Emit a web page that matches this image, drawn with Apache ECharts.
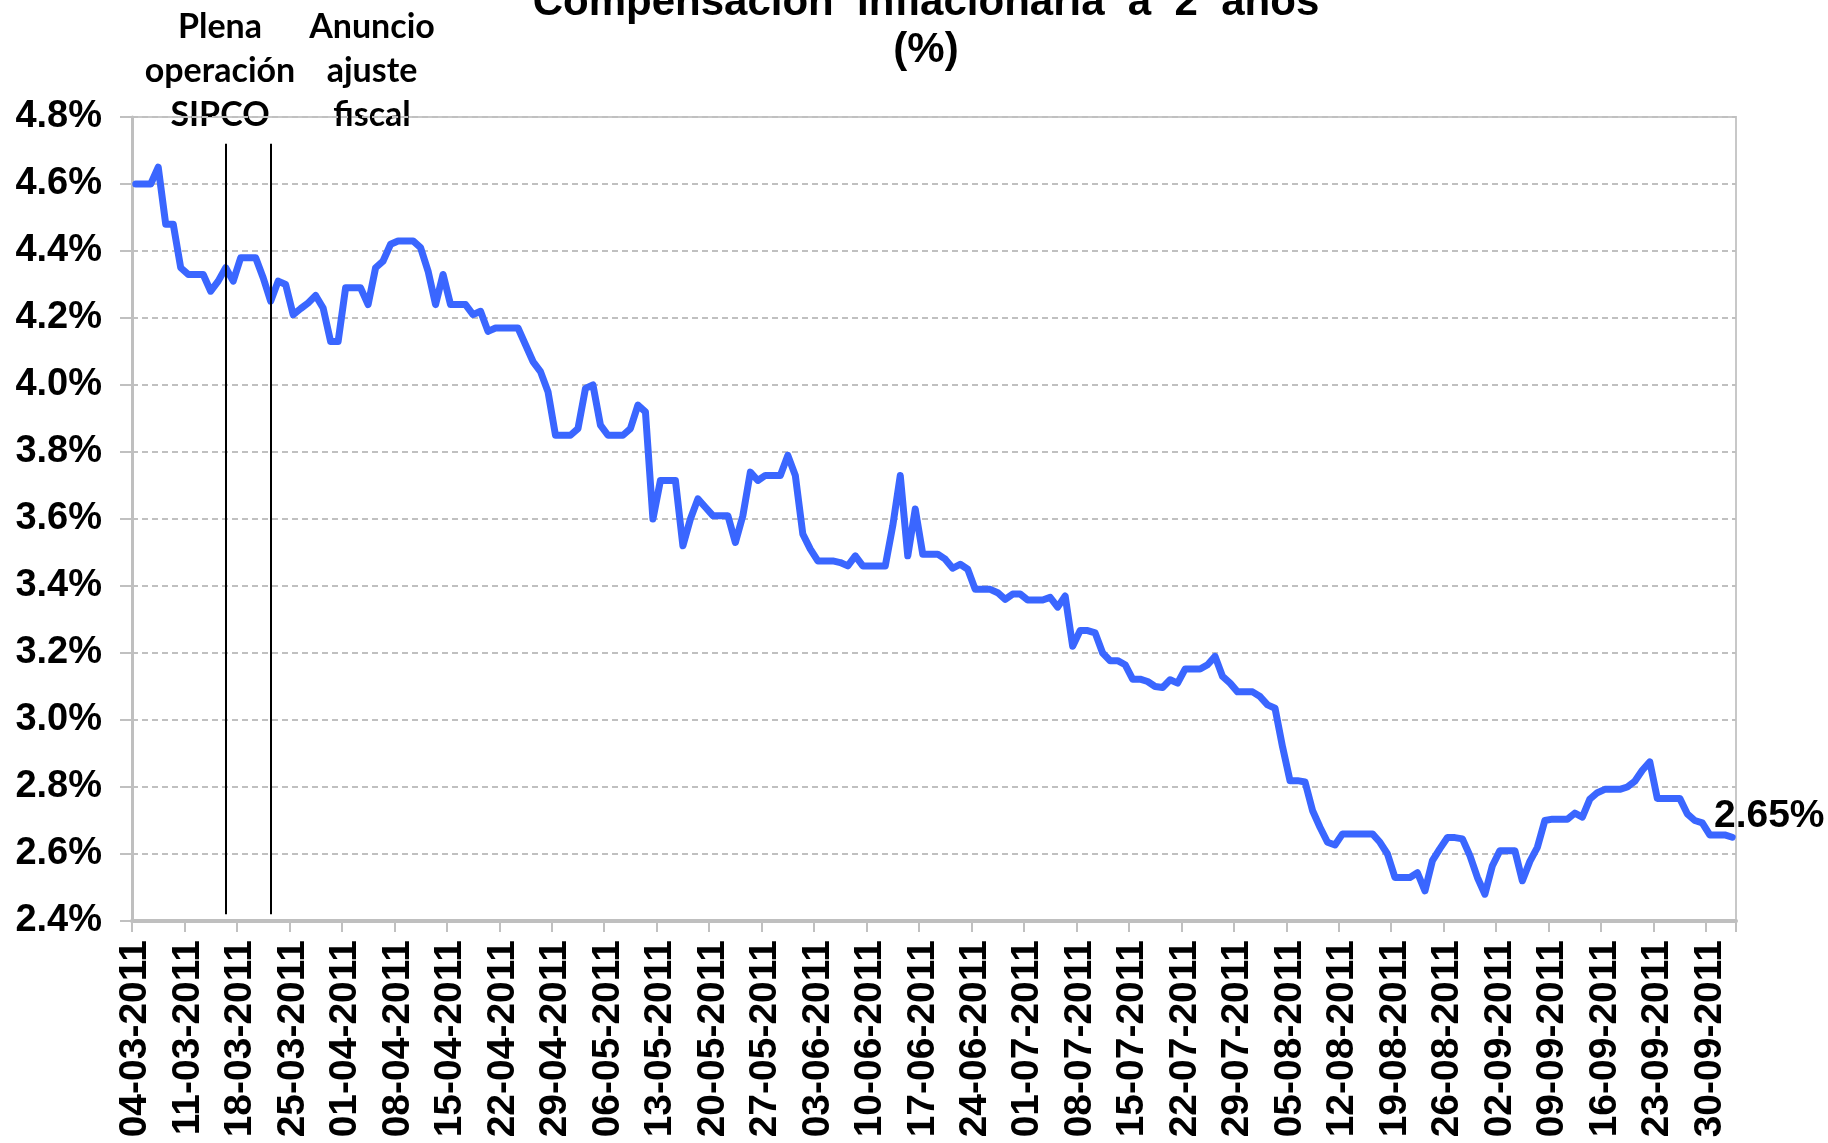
<!DOCTYPE html>
<html>
<head>
<meta charset="utf-8">
<script src="https://cdn.jsdelivr.net/npm/echarts@6/dist/echarts.min.js"></script>
<style>
  html, body { margin: 0; padding: 0; background: #fff; }
  #chart { width: 1828px; height: 1143px; }
</style>
</head>
<body>
<div id="chart"></div>
<script>
// compensacion inflacionaria a 2 años, un valor por día calendario desde el 04-03-2011
const mar = [4.60, 4.60, 4.60, 4.65, 4.48, 4.48, 4.35, 4.33, 4.33, 4.33, 4.28, 4.31, 4.35, 4.31,
  4.38, 4.38, 4.38, 4.32, 4.25, 4.31, 4.30, 4.21, 4.228, 4.245, 4.267, 4.23, 4.13, 4.13];
const abr = [4.29, 4.29, 4.29, 4.24, 4.35, 4.37, 4.42, 4.43, 4.43, 4.43, 4.41, 4.34, 4.24, 4.33,
  4.24, 4.24, 4.24, 4.21, 4.22, 4.16, 4.17, 4.17, 4.17, 4.17, 4.12, 4.07, 4.04, 3.98, 3.85, 3.85];
const may = [3.85, 3.87, 3.99, 4.00, 3.88, 3.85, 3.85, 3.85, 3.87, 3.94, 3.92, 3.60, 3.715, 3.715,
  3.715, 3.52, 3.60, 3.66, 3.635, 3.61, 3.61, 3.61, 3.53, 3.61, 3.74, 3.715, 3.73, 3.73, 3.73, 3.79, 3.73];
const jun = [3.555, 3.51, 3.475, 3.475, 3.475, 3.47, 3.46, 3.49, 3.46, 3.46, 3.46, 3.46, 3.58, 3.73,
  3.49, 3.63, 3.495, 3.495, 3.495, 3.48, 3.453, 3.465, 3.45, 3.39, 3.39, 3.39, 3.38, 3.36, 3.376, 3.376];
const jul = [3.358, 3.358, 3.358, 3.366, 3.337, 3.37, 3.22, 3.267, 3.267, 3.26, 3.20, 3.177, 3.177,
  3.165, 3.122, 3.122, 3.115, 3.10, 3.097, 3.12, 3.11, 3.152, 3.152, 3.152, 3.165, 3.19, 3.13, 3.11,
  3.084, 3.084, 3.084];
const ago = [3.07, 3.045, 3.035, 2.92, 2.819, 2.819, 2.815, 2.73, 2.68, 2.635, 2.627, 2.66, 2.66, 2.66,
  2.66, 2.66, 2.635, 2.60, 2.53, 2.53, 2.53, 2.544, 2.49, 2.58, 2.616, 2.649, 2.649, 2.645, 2.595, 2.53, 2.48];
const sep = [2.565, 2.61, 2.61, 2.61, 2.52, 2.578, 2.62, 2.70, 2.704, 2.704, 2.704, 2.722, 2.71, 2.764,
  2.783, 2.793, 2.793, 2.793, 2.80, 2.817, 2.85, 2.875, 2.766, 2.766, 2.766, 2.766, 2.72, 2.70, 2.693, 2.657];
const oct = [2.657, 2.657, 2.65];

const eventos = [
  { fecha: '16-03-2011', texto: 'Plena\noperación\nSIPCO', x: 220 },
  { fecha: '22-03-2011', texto: 'Anuncio\najuste\nfiscal', x: 372 }
];

const valores = [].concat(mar, abr, may, jun, jul, ago, sep, oct);
const inicio = Date.UTC(2011, 2, 4);
const dos = n => (n < 10 ? '0' : '') + n;
const fechas = valores.map((v, i) => {
  const d = new Date(inicio + i * 86400000);
  return dos(d.getUTCDate()) + '-' + dos(d.getUTCMonth() + 1) + '-' + d.getUTCFullYear();
});

const fuente = '"Liberation Sans", Arial, sans-serif';
const gris = '#c0c0c0';
const azul = '#3a66ff';

const chart = echarts.init(document.getElementById('chart'));
chart.setOption({
  animation: false,
  backgroundColor: '#fff',
  title: {
    text: 'Compensación  Inflacionaria  a  2  años\n(%)',
    left: 921,
    top: -25,
    textAlign: 'center',
    textStyle: { fontFamily: fuente, fontSize: 42, fontWeight: 'bold', color: '#000', lineHeight: 47 }
  },
  grid: {
    left: 132, right: 92, top: 117, bottom: 222,
    show: true, borderColor: '#c8c8c8', borderWidth: 2
  },
  xAxis: {
    type: 'category',
    data: fechas,
    boundaryGap: true,
    axisLine: { lineStyle: { color: '#bfbfbf', width: 4 } },
    axisTick: { show: true, interval: 6, length: 11, lineStyle: { color: gris, width: 2 } },
    axisLabel: {
      interval: 6, rotate: 90, margin: 19,
      fontFamily: fuente, fontSize: 39, fontWeight: 'bold', color: '#000'
    },
    splitLine: { show: false }
  },
  yAxis: {
    type: 'value',
    min: 2.4, max: 4.8, interval: 0.2,
    axisLine: { show: true, lineStyle: { color: '#bfbfbf', width: 3 } },
    axisTick: { show: true, length: 12, lineStyle: { color: gris, width: 2 } },
    axisLabel: {
      formatter: v => v.toFixed(1) + '%', margin: 30,
      fontFamily: fuente, fontSize: 38, fontWeight: 'bold', color: '#000'
    },
    splitLine: { show: true, lineStyle: { color: gris, width: 2, type: [6, 4] } }
  },
  series: [{
    type: 'line',
    data: valores,
    symbol: 'none',
    lineStyle: { color: azul, width: 7, cap: 'round', join: 'round' },
    itemStyle: { color: azul },
    markLine: {
      silent: true,
      symbol: 'none',
      label: { show: false },
      lineStyle: { color: '#000', width: 2, type: 'solid' },
      data: eventos.map(e => [{ coord: [e.fecha, 4.72] }, { coord: [e.fecha, 2.42] }])
    },
    markPoint: {
      symbol: 'circle',
      symbolSize: 0,
      label: {
        show: true,
        formatter: p => p.value.toFixed(2) + '%',
        offset: [37, -21],
        fontFamily: fuente, fontSize: 39, fontWeight: 'bold', color: '#000'
      },
      data: [{ coord: [fechas[fechas.length - 1], valores[valores.length - 1]], value: valores[valores.length - 1] }]
    }
  }],
  graphic: eventos.map(e => ({
    type: 'text',
    x: e.x,
    y: 5,
    style: {
      text: e.texto,
      align: 'center',
      verticalAlign: 'top',
      lineHeight: 44,
      font: 'bold 34px Lato, "Open Sans", sans-serif',
      fill: '#000'
    }
  }))
});
</script>
</body>
</html>
